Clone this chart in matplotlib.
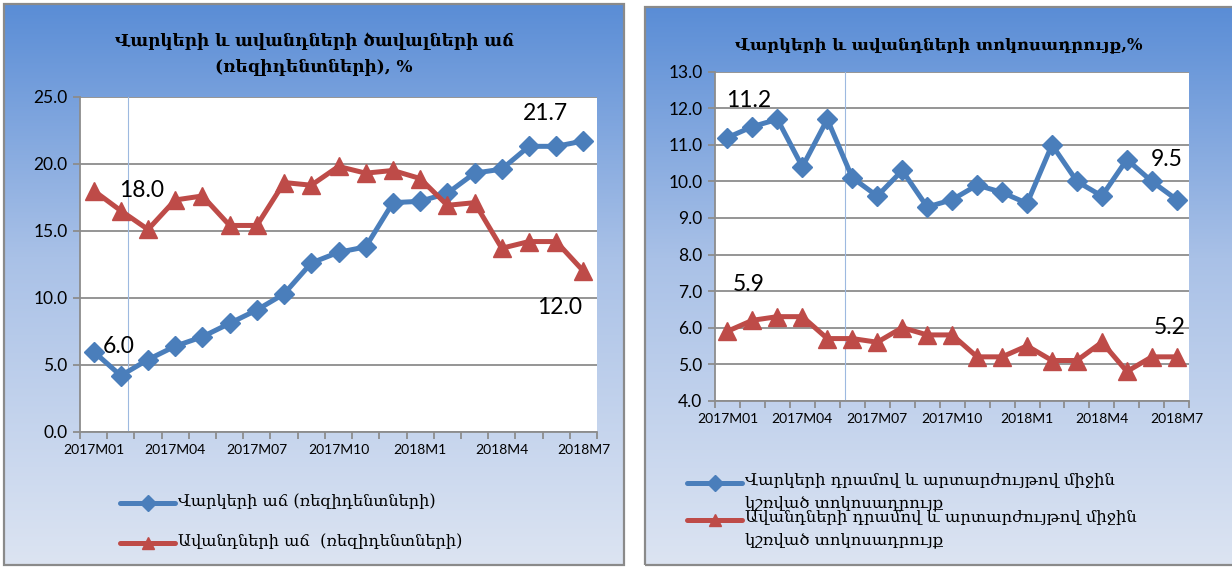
import matplotlib
matplotlib.use("Agg")
import numpy as np
import matplotlib.pyplot as plt
from matplotlib.colors import LinearSegmentedColormap
from matplotlib.lines import Line2D
from matplotlib.patches import Rectangle

# categories (months)
months = ["2017M01", "2017M02", "2017M03", "2017M04", "2017M05", "2017M06",
          "2017M07", "2017M08", "2017M09", "2017M10", "2017M11", "2017M12",
          "2018M1", "2018M2", "2018M3", "2018M4", "2018M5", "2018M6", "2018M7"]

# left chart: growth of loans / deposits (residents), %
loan_growth = [6.0, 4.2, 5.4, 6.4, 7.1, 8.1, 9.1, 10.3, 12.6, 13.4, 13.8,
               17.1, 17.2, 17.8, 19.3, 19.6, 21.3, 21.3, 21.7]
deposit_growth = [18.0, 16.5, 15.1, 17.3, 17.6, 15.4, 15.4, 18.6, 18.4, 19.8,
                  19.3, 19.5, 18.9, 16.9, 17.1, 13.7, 14.2, 14.2, 12.0]

# right chart: interest rates, %
loan_rate = [11.2, 11.5, 11.7, 10.4, 11.7, 10.1, 9.6, 10.3, 9.3, 9.5, 9.9,
             9.7, 9.4, 11.0, 10.0, 9.6, 10.6, 10.0, 9.5]
deposit_rate = [5.9, 6.2, 6.3, 6.3, 5.7, 5.7, 5.6, 6.0, 5.8, 5.8, 5.2, 5.2,
                5.5, 5.1, 5.1, 5.6, 4.8, 5.2, 5.2]

title_left = "Վարկերի և ավանդների ծավալների աճ\n(ռեզիդենտների), %"
title_right = "Վարկերի և ավանդների տոկոսադրույք,%"
legend_left = ["Վարկերի աճ (ռեզիդենտների)", "Ավանդների աճ  (ռեզիդենտների)"]
legend_right = ["Վարկերի դրամով և արտարժույթով միջին\nկշռված տոկոսադրույք",
                "Ավանդների դրամով և արտարժույթով միջին\nկշռված տոկոսադրույք"]

plt.rcParams["font.family"] = ["Lato", "DejaVu Sans"]
ARM = ["DejaVu Serif", "DejaVu Sans"]

BLUE = "#4A7EBB"
RED = "#BE4B48"
GRID = "#8C8C8C"

W, H = 1232, 569
fig = plt.figure(figsize=(W / 100, H / 100), dpi=100)
fig.patch.set_facecolor("white")


def px_axes(x0, y0, x1, y1):
    return fig.add_axes([x0 / W, 1 - y1 / H, (x1 - x0) / W, (y1 - y0) / H])


grad_cmap = LinearSegmentedColormap.from_list(
    "bg", [(0.0, "#5A8DD6"), (0.45, "#A9C1E7"), (1.0, "#DCE4F2")])


def panel(x0, y0, x1, y1):
    bg = px_axes(x0, y0, x1, y1)
    g = np.linspace(0, 1, 256).reshape(-1, 1)
    bg.imshow(g, aspect="auto", cmap=grad_cmap, extent=[0, 1, 0, 1], origin="upper")
    bg.set_xlim(0, 1)
    bg.set_ylim(0, 1)
    bg.axis("off")
    bg.add_patch(Rectangle((0, 0), 1, 1, fill=False, edgecolor="#8A8A8A",
                           lw=1.6, transform=bg.transAxes, clip_on=False))


def chart(ax, blue, red, ymin, ymax, step):
    x = np.arange(len(months))
    ax.set_facecolor("white")
    ax.plot(x, blue, color=BLUE, lw=3.6, marker="D", ms=10.5, zorder=3)
    ax.plot(x, red, color=RED, lw=3.6, marker="^", ms=13, zorder=3)
    ax.set_xlim(-0.5, len(months) - 0.5)
    ax.set_ylim(ymin, ymax)
    ax.set_yticks(np.arange(ymin, ymax + step / 2, step))
    ax.yaxis.set_major_formatter(matplotlib.ticker.FormatStrFormatter("%.1f"))
    ax.grid(axis="y", color=GRID, lw=1.3)
    ax.set_axisbelow(True)
    for s in ["top", "right"]:
        ax.spines[s].set_visible(False)
    for s in ["left", "bottom"]:
        ax.spines[s].set_color(GRID)
        ax.spines[s].set_linewidth(1.3)
    ax.set_xticks(x[::3])
    ax.set_xticklabels(months[::3], fontsize=10)
    ax.set_xticks(np.arange(-0.5, len(months)), minor=True)
    ax.tick_params(axis="x", which="major", length=0, pad=9)
    ax.tick_params(axis="x", which="minor", length=5, color=GRID, width=1.3)
    ax.tick_params(axis="y", length=5, color=GRID, width=1.3, labelsize=12.5, pad=4)


def label(ax, i, vals, dx, dy):
    ax.annotate(f"{vals[i]:.1f}", (i, vals[i]), xytext=(dx, dy),
                textcoords="offset pixels", ha="center", va="center",
                fontsize=16.5, color="black", zorder=5)


def legend(entries, x0, fs):
    for (col, mk, ms, ly, ty, txt) in entries:
        fig.add_artist(Line2D([x0 / W, (x0 + 55) / W], [1 - ly / H, 1 - ly / H],
                              color=col, lw=3.6, solid_capstyle="round"))
        fig.add_artist(Line2D([(x0 + 27.5) / W], [1 - ly / H], color=col,
                              marker=mk, ms=ms, lw=0))
        fig.text((x0 + 58) / W, 1 - ty / H, txt, family=ARM, fontsize=fs,
                 va="top", ha="left", linespacing=1.45)


# ---- left panel ----
panel(4, 4, 624, 565)
axl = px_axes(80, 96.7, 597, 432)
chart(axl, loan_growth, deposit_growth, 0, 25, 5)
axl.axvline(1.264, color="#9DB9E0", lw=0.8, zorder=1)
label(axl, 0, loan_growth, 25, 5)
label(axl, 0, deposit_growth, 48, 0)
label(axl, 18, loan_growth, -38, 27)
label(axl, 18, deposit_growth, -24, -36)
fig.text(314 / W, 1 - 54 / H, title_left, family=ARM, fontweight="bold",
         fontsize=12.2, ha="center", va="center", linespacing=1.7)
legend([(BLUE, "D", 8, 503, 493, legend_left[0]),
        (RED, "^", 9, 543, 533, legend_left[1])], 120, 11.6)

# ---- right panel ----
panel(645, 7, 1240, 565)
axr = px_axes(715, 71.8, 1189.3, 400.7)
chart(axr, loan_rate, deposit_rate, 4, 13, 1)
axr.axvline(4.708, color="#9DB9E0", lw=0.8, zorder=1)
label(axr, 0, loan_rate, 21, 37)
label(axr, 0, deposit_rate, 21, 47)
label(axr, 18, loan_rate, -10, 40)
label(axr, 18, deposit_rate, -7, 29)
fig.text(939 / W, 1 - 45 / H, title_right, family=ARM, fontweight="bold",
         fontsize=11.8, ha="center", va="center")
legend([(BLUE, "D", 8, 483, 472, legend_right[0]),
        (RED, "^", 9, 520, 509, legend_right[1])], 687, 11.8)

fig.savefig("out.png", dpi=100)
